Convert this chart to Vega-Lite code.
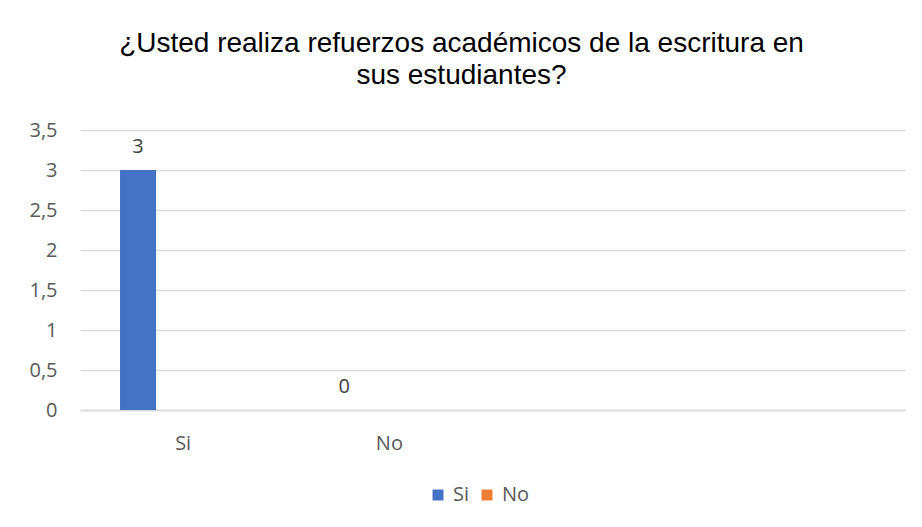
{
  "$schema": "https://vega.github.io/schema/vega-lite/v6.json",
  "width": 825,
  "height": 280,
  "autosize": {"type": "none"},
  "padding": {"left": 80, "top": 130, "right": 17, "bottom": 117},
  "background": "white",
  "title": {
    "text": ["¿Usted realiza refuerzos académicos de la escritura en", "sus estudiantes?"],
    "font": "Liberation Sans",
    "fontSize": 28,
    "fontWeight": "normal",
    "color": "#000000",
    "anchor": "middle",
    "dx": -31,
    "offset": 30,
    "lineHeight": 32
  },
  "data": {
    "values": [
      {"categoria": "Si", "serie": "Si", "valor": 3},
      {"categoria": "No", "serie": "Si", "valor": 0}
    ]
  },
  "encoding": {
    "x": {
      "field": "categoria",
      "type": "nominal",
      "sort": null,
      "scale": {"domain": ["Si", "No", "c3", "c4"], "paddingInner": 0, "paddingOuter": 0},
      "axis": {
        "title": null,
        "labelAngle": 0,
        "labelExpr": "datum.value == 'Si' || datum.value == 'No' ? datum.value : ''",
        "ticks": false,
        "domain": true,
        "domainColor": "#D9D9D9",
        "domainWidth": 1.3,
        "labelFont": "Open Sans",
        "labelFontSize": 20,
        "labelColor": "#595959",
        "labelPadding": 23
      }
    },
    "xOffset": {
      "field": "serie",
      "type": "nominal",
      "scale": {"domain": ["Si", "No"], "paddingInner": 0.6, "paddingOuter": 0.444}
    },
    "y": {
      "field": "valor",
      "type": "quantitative",
      "scale": {"domain": [0, 3.5]},
      "axis": {
        "title": null,
        "values": [0, 0.5, 1, 1.5, 2, 2.5, 3, 3.5],
        "labelExpr": "replace(format(datum.value, '~g'), '.', ',')",
        "domain": false,
        "ticks": false,
        "grid": true,
        "gridColor": "#D9D9D9",
        "gridWidth": 1.3,
        "labelFont": "Open Sans",
        "labelFontSize": 20,
        "labelColor": "#595959",
        "labelPadding": 23
      }
    }
  },
  "layer": [
    {
      "mark": {"type": "bar"},
      "encoding": {
        "color": {
          "field": "serie",
          "type": "nominal",
          "scale": {"domain": ["Si", "No"], "range": ["#4472C4", "#ED7D31"]},
          "legend": {
            "title": null,
            "orient": "none",
            "direction": "horizontal",
            "legendX": 348,
            "legendY": 355,
            "symbolType": "square",
            "symbolSize": 120,
            "symbolStrokeWidth": 0,
            "labelFont": "Open Sans",
            "labelFontSize": 20,
            "labelColor": "#595959",
            "columnPadding": 7,
            "labelOffset": 5
          }
        }
      }
    },
    {
      "mark": {"type": "text", "baseline": "bottom", "dy": -13, "font": "Open Sans", "fontSize": 20, "color": "#404040"},
      "encoding": {
        "text": {"field": "valor", "type": "quantitative"}
      }
    }
  ],
  "config": {
    "view": {"stroke": null}
  }
}
